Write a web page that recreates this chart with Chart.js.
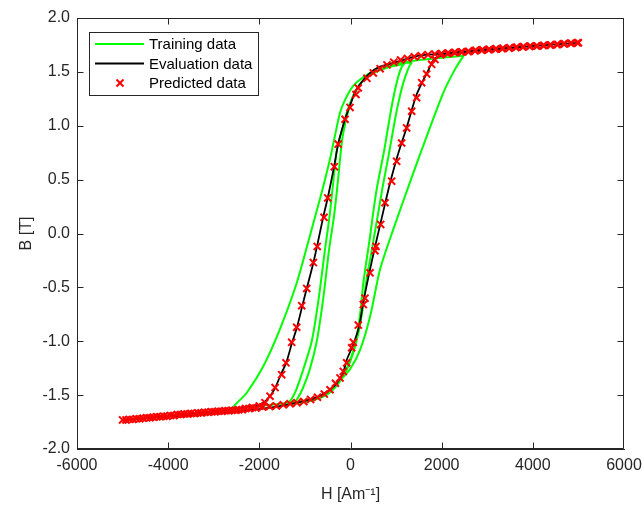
<!DOCTYPE html>
<html>
<head>
<meta charset="utf-8">
<script src="https://cdn.jsdelivr.net/npm/chart.js@4.4.0/dist/chart.umd.min.js"></script>
<style>
html, body { margin: 0; padding: 0; background: #fff; overflow: hidden; }
#wrap { width: 643px; height: 508px; }
</style>
</head>
<body>
<div id="wrap"><canvas id="loopChart" width="643" height="508"></canvas></div>
<script>
// Axis ticks
const xTicks = [-6000, -4000, -2000, 0, 2000, 4000, 6000];
const yTicks = [-2, -1.5, -1, -0.5, 0, 0.5, 1, 1.5, 2];

// Training loops (H in A/m, B in T)
const bigH = [2480, 2000, 1500, 1150, 650, 280, 60, -120, -230, -340, -450, -670, -890, -1180, -1550, -1910, -2280, -2570,
  -2000, -1500, -1000, -600, -380, -200, -10, 210, 430, 650, 940, 1300, 1670, 2040, 2300, 2480];
const bigB = [1.65, 1.63, 1.61, 1.585, 1.54, 1.45, 1.37, 1.24, 1.12, 0.91, 0.69, 0.32, -0.02, -0.46, -0.89, -1.23, -1.48, -1.62,
  -1.60, -1.58, -1.55, -1.50, -1.42, -1.35, -1.26, -1.08, -0.77, -0.33, 0.04, 0.47, 0.90, 1.31, 1.53, 1.65];

const innerAH = [1180, 900, 550, 250, 60, -60, -160, -208, -280, -362, -470, -600, -740, -900, -1060, -1160, -1220,
  -1000, -700, -450, -250, -80, 60, 160, 230, 281, 355, 428, 500, 574, 660, 743, 866, 940, 1013, 1080, 1130, 1180];
const innerAB = [1.575, 1.55, 1.50, 1.41, 1.28, 1.12, 0.93, 0.78, 0.47, 0.16, -0.15, -0.61, -1.00, -1.27, -1.45, -1.53, -1.57,
  -1.56, -1.53, -1.47, -1.38, -1.25, -1.09, -0.90, -0.68, -0.46, -0.24, -0.03, 0.20, 0.41, 0.60, 0.78, 1.09, 1.26, 1.40, 1.50, 1.55, 1.575];

const innerBH = [1350, 1000, 600, 300, 100, -60, -180, -300, -380, -460, -560, -700, -850, -1050, -1200, -1300, -1370,
  -1100, -800, -500, -280, -100, 50, 170, 260, 340, 440, 530, 620, 700, 780, 860, 990, 1080, 1160, 1240, 1300, 1350];
const innerBB = [1.59, 1.565, 1.51, 1.43, 1.31, 1.15, 0.97, 0.78, 0.47, 0.16, -0.15, -0.61, -1.00, -1.28, -1.46, -1.54, -1.58,
  -1.57, -1.545, -1.49, -1.40, -1.28, -1.12, -0.93, -0.72, -0.46, -0.22, 0.0, 0.22, 0.42, 0.60, 0.78, 1.09, 1.27, 1.40, 1.50, 1.56, 1.59];

// Evaluation loop
const evalH = [5000, 4000, 3000, 2000, 1500, 1000, 600, 400, 200, 100, 0, -120, -270, -360, -500, -600, -730, -820, -960, -1050,
  -1180, -1280, -1410, -1530, -1660, -1770, -1910, -2100, -2500, -3000, -4000, -5000,
  -4000, -3000, -2000, -1400, -800, -450, -300, -160, -80, 60, 190, 280, 410, 540, 650, 760, 880, 1010, 1120, 1230,
  1340, 1450, 1580, 1690, 1820, 2000, 2500, 3000, 4000, 5000];
const evalB = [1.77, 1.74, 1.71, 1.67, 1.65, 1.59, 1.54, 1.48, 1.38, 1.31, 1.20, 1.06, 0.83, 0.62, 0.33, 0.15, -0.11, -0.28, -0.51, -0.66,
  -0.88, -1.01, -1.20, -1.31, -1.44, -1.51, -1.57, -1.60, -1.63, -1.65, -1.69, -1.73,
  -1.70, -1.67, -1.63, -1.59, -1.53, -1.45, -1.39, -1.29, -1.17, -1.03, -0.86, -0.64, -0.37, -0.12, 0.08, 0.28, 0.49, 0.69, 0.84, 0.98,
  1.14, 1.29, 1.41, 1.50, 1.61, 1.65, 1.68, 1.70, 1.74, 1.77];

// Predicted points, falling branch then rising branch
const predDownH = [5000, 4850, 4700, 4550, 4400, 4250, 4100, 3950, 3800, 3650, 3500, 3350, 3200, 3050, 2900, 2750, 2600, 2450, 2300, 2150, 2000,
  1850, 1700, 1550, 1400, 1250, 1100, 950, 800, 650, 500,
  360, 170, 120, -10, -120, -270, -355, -500, -580, -730, -815, -960, -1070, -1180, -1290, -1415, -1510, -1655, -1765, -1875,
  -2000, -2150, -2300, -2450, -2600, -2750, -2900, -3050, -3200, -3350, -3500, -3650, -3800, -3950, -4100, -4250, -4400, -4550, -4700, -4850, -5000];
const predDownB = [1.77, 1.765, 1.76, 1.755, 1.75, 1.745, 1.74, 1.74, 1.735, 1.73, 1.725, 1.72, 1.715, 1.71, 1.705, 1.70, 1.69, 1.685, 1.68, 1.675, 1.67,
  1.665, 1.66, 1.65, 1.64, 1.625, 1.61, 1.59, 1.565, 1.53, 1.49,
  1.44, 1.35, 1.29, 1.17, 1.06, 0.83, 0.62, 0.33, 0.15, -0.12, -0.27, -0.51, -0.67, -0.87, -1.01, -1.20, -1.31, -1.43, -1.51, -1.57,
  -1.60, -1.615, -1.625, -1.635, -1.64, -1.645, -1.65, -1.655, -1.66, -1.665, -1.67, -1.675, -1.68, -1.69, -1.695, -1.70, -1.71, -1.715, -1.72, -1.725, -1.73];
const predUpH = [-4925, -4775, -4625, -4475, -4325, -4175, -4025, -3875, -3725, -3575, -3425, -3275, -3125, -2975, -2825, -2675, -2525, -2375, -2225, -2075,
  -1925, -1775, -1625, -1475, -1325, -1175, -1025, -875, -725, -575, -450, -330,
  -230, -158, -84, 26, 62, 171, 281, 318, 428, 537, 559, 662, 757, 903, 1013, 1122, 1232, 1342, 1451, 1561, 1671, 1780, 1853,
  1975, 2125, 2275, 2425, 2575, 2725, 2875, 3025, 3175, 3325, 3475, 3625, 3775, 3925, 4075, 4225, 4375, 4525, 4675, 4825, 4975];
const predUpB = [-1.73, -1.725, -1.72, -1.71, -1.705, -1.70, -1.695, -1.69, -1.68, -1.675, -1.67, -1.665, -1.66, -1.655, -1.65, -1.645, -1.64, -1.635, -1.625, -1.62,
  -1.61, -1.605, -1.60, -1.59, -1.58, -1.57, -1.56, -1.54, -1.52, -1.49, -1.45, -1.39,
  -1.34, -1.28, -1.20, -1.06, -1.01, -0.85, -0.66, -0.60, -0.365, -0.16, -0.12, 0.084, 0.285, 0.486, 0.67, 0.84, 0.98, 1.135, 1.26, 1.40, 1.48, 1.57, 1.615,
  1.66, 1.67, 1.68, 1.685, 1.69, 1.695, 1.70, 1.705, 1.71, 1.715, 1.72, 1.725, 1.73, 1.735, 1.74, 1.745, 1.75, 1.755, 1.76, 1.765, 1.77];

function pts(h, b) {
    return h.map((v, i) => ({ x: v, y: b[i] }));
}

const axisColor = '#262626';
Chart.defaults.font.family = "'Liberation Sans', Arial, Helvetica, sans-serif";

function trainSet(h, b) {
    return {
        label: 'Training data',
        data: pts(h, b),
        showLine: true,
        borderColor: '#00ff00',
        borderWidth: 2,
        pointRadius: 0,
        tension: 0.25,
        order: 3
    };
}

// Box, inward ticks and legend, MATLAB style
const framePlugin = {
    id: 'frame',
    afterDraw(chart) {
        const { ctx, scales } = chart;
        const L = Math.round(scales.x.left) + 0.5, R = Math.round(scales.x.right) - 0.5;
        const T = Math.round(scales.y.top) + 0.5, B = Math.round(scales.y.bottom) - 0.5;
        ctx.save();
        ctx.strokeStyle = axisColor;
        ctx.lineWidth = 1;
        ctx.beginPath();
        ctx.moveTo(L, T); ctx.lineTo(R, T); ctx.lineTo(R, B); ctx.lineTo(L, B); ctx.closePath();
        xTicks.forEach(v => {
            const px = Math.round(scales.x.getPixelForValue(v)) + (v === 6000 ? -0.5 : 0.5);
            ctx.moveTo(px, B); ctx.lineTo(px, B - 6);
            ctx.moveTo(px, T); ctx.lineTo(px, T + 6);
        });
        yTicks.forEach(v => {
            const py = Math.round(scales.y.getPixelForValue(v)) + 0.5;
            ctx.moveTo(L, py); ctx.lineTo(L + 6, py);
            ctx.moveTo(R, py); ctx.lineTo(R - 6, py);
        });
        ctx.stroke();

        // Legend
        const lx = 89.5, ly = 32.5, lw = 169, lh = 63;
        ctx.fillStyle = '#fff';
        ctx.fillRect(lx, ly, lw, lh);
        ctx.strokeStyle = axisColor;
        ctx.strokeRect(lx, ly, lw, lh);
        const rows = [
            { text: 'Training data', y: 44, kind: 'line', color: '#00ff00', w: 2 },
            { text: 'Evaluation data', y: 63.5, kind: 'line', color: '#000000', w: 1.8 },
            { text: 'Predicted data', y: 83, kind: 'mark', color: '#ff0000', w: 2 }
        ];
        ctx.font = "15px 'Liberation Sans', Arial, sans-serif";
        ctx.textBaseline = 'middle';
        rows.forEach(r => {
            ctx.strokeStyle = r.color;
            ctx.lineWidth = r.w;
            ctx.beginPath();
            if (r.kind === 'line') {
                ctx.moveTo(95, r.y); ctx.lineTo(144, r.y);
            } else {
                ctx.moveTo(116.5, r.y - 3.5); ctx.lineTo(123.5, r.y + 3.5);
                ctx.moveTo(116.5, r.y + 3.5); ctx.lineTo(123.5, r.y - 3.5);
            }
            ctx.stroke();
            ctx.fillStyle = '#000';
            ctx.fillText(r.text, 149, r.y + 1);
        });
        ctx.restore();
    }
};

const ctx = document.getElementById('loopChart').getContext('2d');
const loopChart = new Chart(ctx, {
    type: 'scatter',
    data: {
        datasets: [
            trainSet(bigH, bigB),
            trainSet(innerAH, innerAB),
            trainSet(innerBH, innerBB),
            {
                label: 'Evaluation data',
                data: pts(evalH, evalB),
                showLine: true,
                borderColor: '#000000',
                borderWidth: 1.8,
                pointRadius: 0,
                tension: 0.25,
                order: 2
            },
            {
                label: 'Predicted data',
                data: pts(predDownH.concat(predUpH), predDownB.concat(predUpB)),
                showLine: false,
                pointStyle: 'crossRot',
                pointRadius: 5,
                pointBorderColor: '#ff0000',
                pointBorderWidth: 2,
                borderColor: '#ff0000',
                order: 1
            }
        ]
    },
    options: {
        responsive: false,
        animation: false,
        events: [],
        layout: { autoPadding: false, padding: { top: 18, right: 19, left: 0, bottom: 0 } },
        plugins: {
            legend: { display: false },
            tooltip: { enabled: false }
        },
        scales: {
            x: {
                type: 'linear',
                min: -6000,
                max: 6000,
                afterBuildTicks: s => { s.ticks = xTicks.map(v => ({ value: v })); },
                afterFit: s => { s.height = 59; s.paddingLeft = 0; s.paddingRight = 0; },
                ticks: { color: axisColor, font: { size: 16 }, padding: 7, maxRotation: 0, callback: v => String(v) },
                grid: { display: false, drawTicks: false },
                border: { display: true, color: axisColor },
                title: { display: true, text: 'H [Am⁻¹]', color: axisColor, font: { size: 16 }, padding: { top: 0, bottom: 4 } }
            },
            y: {
                type: 'linear',
                min: -2,
                max: 2,
                afterBuildTicks: s => { s.ticks = yTicks.map(v => ({ value: v })); },
                afterFit: s => { s.width = 77; s.paddingTop = 0; s.paddingBottom = 0; },
                ticks: { color: axisColor, font: { size: 16 }, padding: 7, callback: v => v.toFixed(1) },
                grid: { display: false, drawTicks: false },
                border: { display: true, color: axisColor },
                title: { display: true, text: 'B [T]', color: axisColor, font: { size: 16 }, padding: { top: 17, bottom: 0 } }
            }
        }
    },
    plugins: [framePlugin]
});
</script>
</body>
</html>
